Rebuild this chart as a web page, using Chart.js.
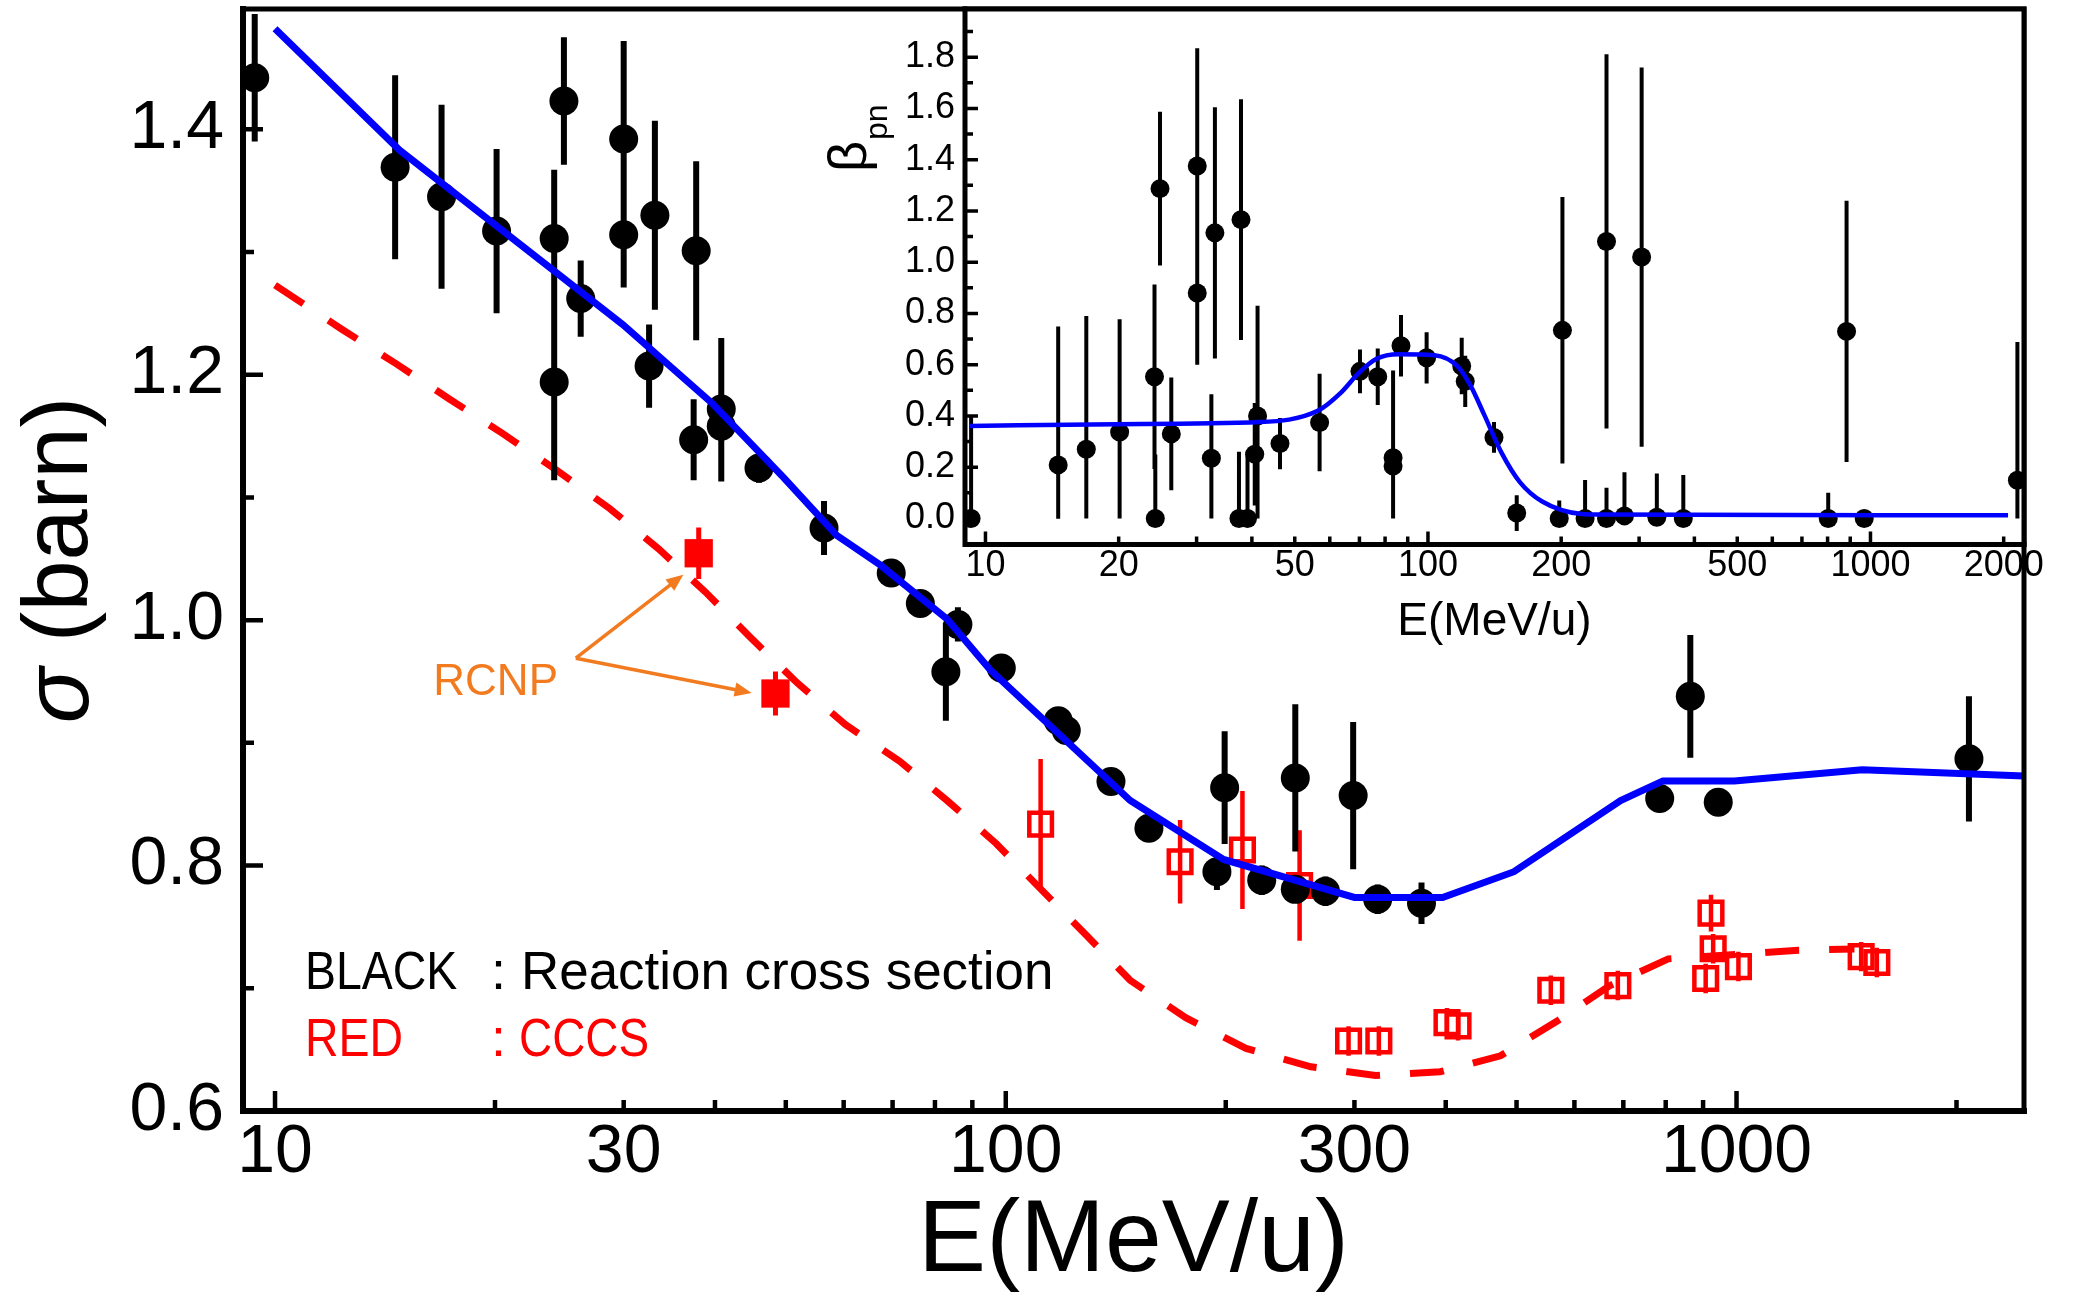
<!DOCTYPE html>
<html>
<head>
<meta charset="utf-8">
<script src="https://cdn.jsdelivr.net/npm/chart.js@4.4.1/dist/chart.umd.min.js"></script>
<style>
    html, body { margin: 0; padding: 0; background: #fff; }
    #wrap { position: relative; width: 2074px; height: 1293px; overflow: hidden; }
    #main { position: absolute; left: 0; top: 0; }
    #inset { position: absolute; left: 800px; top: 0; }
</style>
</head>
<body>
<div id="wrap">
    <canvas id="main" width="2074" height="1293"></canvas>
    <canvas id="inset" width="1274" height="700"></canvas>
</div>
<script>
const FONT = '"Liberation Sans", Arial, Helvetica, sans-serif';
const BLUE = '#0000ff';
const RED = '#ff0000';
const ORANGE = '#f27a1f';

// ---- main panel: reaction cross section (black) ----
const blackE = [9.38, 14.6, 16.9, 20.1, 24.1, 24.1, 24.85, 26.2, 30.0, 30.0, 33.1, 32.5, 37.7, 37.4, 40.8, 40.8,
    45.95, 56.4, 69.7, 76.4, 86.0, 82.8, 98.6, 118, 121, 139.3, 157, 194.5, 199.3, 224, 249, 249, 273.8,
    298.8, 322.8, 370.6, 785, 864.5, 944, 2080];
const blackSigma = [1.442, 1.369, 1.345, 1.317, 1.311, 1.194, 1.423, 1.262, 1.392, 1.314, 1.330, 1.207, 1.301,
    1.147, 1.172, 1.158, 1.124, 1.075, 1.0385, 1.0136, 0.9965, 0.958, 0.961, 0.918, 0.910, 0.8686, 0.8305,
    0.795, 0.8635, 0.788, 0.8714, 0.7806, 0.779, 0.857, 0.7725, 0.7693, 0.8547, 0.9379, 0.8515, 0.887];
const blackErr = [0.052, 0.075, 0.075, 0.067, 0.056, 0.08, 0.052, 0.031, 0.08, 0.043, 0.077, 0.034, 0.073,
    0.033, 0.058, 0.045, 0.012, 0.022, 0.009, 0.01, 0.014, 0.04, 0.01, 0.01, 0.01, 0.01, 0.01, 0.015, 0.046,
    0.012, 0.06, 0.01, 0.012, 0.06, 0.012, 0.017, 0.01, 0.05, 0.01, 0.051];

// reaction cross section calculation (blue solid)
const rcTheoryE = [10.0, 14.8, 29.9, 39.6, 49.7, 58.7, 67.3, 83.1, 95.2, 148, 198.6, 300, 396, 496, 694, 793, 993, 1486, 2474];
const rcTheorySigma = [1.482, 1.383, 1.241, 1.177, 1.116, 1.069, 1.045, 1.001, 0.9595, 0.853, 0.805, 0.774, 0.774,
    0.795, 0.853, 0.869, 0.869, 0.878, 0.873];

// charge changing cross section (red)
const cccsE = [111.6, 173.2, 210.8, 252.4, 294.5, 324, 401.6, 415.8, 557, 688, 922.7, 929, 907.4, 1006, 1481, 1556];
const cccsSigma = [0.8338, 0.8031, 0.8127, 0.7838, 0.657, 0.657, 0.672, 0.6694, 0.6984, 0.7022, 0.7612, 0.7322,
    0.708, 0.7177, 0.7258, 0.721];
const cccsErr = [0.053, 0.034, 0.048, 0.045, 0.012, 0.012, 0.012, 0.012, 0.012, 0.012, 0.015, 0.012, 0.012,
    0.012, 0.012, 0.012];

const rcnpE = [38.0, 48.4];
const rcnpSigma = [1.0545, 0.9402];
const rcnpErr = [0.021, 0.018];

const cccsTheoryE = [10.0, 12.34, 14.64, 17.34, 20.5, 24.3, 28.7, 33.5, 38.8, 44.7, 51.8, 60.3, 71.6, 83.1, 97,
    111.6, 128.5, 148, 176.3, 213.2, 261.5, 320.6, 393, 475.3, 570.6, 670, 806.5, 1214.6, 1450];
const cccsTheorySigma = [1.273, 1.237, 1.209, 1.180, 1.152, 1.122, 1.091, 1.058, 1.023, 0.986, 0.949, 0.915,
    0.885, 0.853, 0.818, 0.781, 0.744, 0.7065, 0.676, 0.651, 0.636, 0.629, 0.632, 0.645, 0.674, 0.702, 0.724,
    0.731, 0.732];

const mainXTicks = [10, 20, 30, 40, 50, 60, 70, 80, 90, 100, 200, 300, 400, 500, 600, 700, 800, 900, 1000, 2000];
const mainXMajor = [10, 100, 1000];
const mainXLabeled = [10, 30, 100, 300, 1000];
const mainYTicks = [0.6, 0.7, 0.8, 0.9, 1.0, 1.1, 1.2, 1.3, 1.4];
const mainYLabeled = [0.6, 0.8, 1.0, 1.2, 1.4];

// ---- inset: beta_pn ----
const betaE = [9.28, 14.6, 16.9, 20.1, 24.8, 24.1, 24.2, 26.3, 30.1, 30.1, 33.0, 32.4, 37.8, 37.4, 39.1, 41.2,
    40.6, 46.3, 56.9, 70.2, 77.0, 86.9, 83.4, 83.4, 99.3, 119.2, 121.4, 141, 158.7, 201.3, 198, 226.5, 253.2,
    253.2, 278, 304, 329, 377.6, 802.6, 883, 968, 2148];
const betaVal = [0, 0.209, 0.27, 0.337, 1.287, 0.553, 0, 0.33, 1.375, 0.880, 1.1145, 0.235, 1.166, 0, 0, 0.40,
    0.251, 0.2925, 0.3745, 0.574, 0.553, 0.674, 0.237, 0.205, 0.627, 0.595, 0.535, 0.316, 0.021, 0.734, 0, 0,
    0, 1.081, 0.01, 1.02, 0.005, 0, 0, 0.73, 0, 0.149];
const betaUp = [0.4, 0.54, 0.52, 0.44, 0.30, 0.36, 0.25, 0.22, 0.46, 0.28, 0.49, 0.25, 0.47, 0.26, 0.26, 0.43,
    0.2, 0.1, 0.19, 0.085, 0.11, 0.12, 0.34, 0.2, 0.1, 0.11, 0.1, 0.06, 0.07, 0.52, 0.07, 0.15, 0.12, 0.73,
    0.17, 0.74, 0.17, 0.17, 0.1, 0.51, 0.03, 0.54];
const betaDown = [0, 0.21, 0.27, 0.337, 0.30, 0.36, 0, 0.22, 0.46, 0.28, 0.49, 0.235, 0.47, 0, 0, 0.40, 0.2,
    0.1, 0.19, 0.085, 0.11, 0.12, 0.237, 0.205, 0.1, 0.11, 0.1, 0.06, 0.07, 0.52, 0, 0, 0, 0.73, 0.01, 0.74,
    0.005, 0, 0, 0.51, 0, 0.149];

const betaFitE = [9.18, 19.8, 41.7, 56.5, 63.5, 69.7, 76.5, 85.9, 103.5, 116.4, 124.8, 133.8, 146.9, 161.3,
    181.2, 222.4, 240.5, 2046];
const betaFitVal = [0.361, 0.368, 0.376, 0.421, 0.490, 0.567, 0.623, 0.641, 0.637, 0.595, 0.518, 0.407, 0.254,
    0.142, 0.066, 0.017, 0.015, 0.0125];

const insetXTicks = [10, 20, 30, 40, 50, 60, 70, 80, 90, 100, 200, 300, 400, 500, 600, 700, 800, 900, 1000, 2000];
const insetXMajor = [10, 100, 1000];
const insetXLabeled = [10, 20, 50, 100, 200, 500, 1000, 2000];
const insetYTicks = [0, 0.1, 0.2, 0.3, 0.4, 0.5, 0.6, 0.7, 0.8, 0.9, 1.0, 1.1, 1.2, 1.3, 1.4, 1.5, 1.6, 1.7, 1.8, 1.9];
const insetYLabeled = [0, 0.2, 0.4, 0.6, 0.8, 1.0, 1.2, 1.4, 1.6, 1.8];

const pts = (xs, ys) => xs.map((v, i) => ({ x: v, y: ys[i] }));

Chart.defaults.font.family = FONT;
Chart.defaults.color = '#000';

// vertical error bars, drawn just before the dataset's own points
const errorBars = {
    id: 'errorBars',
    beforeDatasetDraw(chart, args) {
        const ds = chart.data.datasets[args.index];
        if (!ds.errUp) {
            return;
        }
        const { ctx, chartArea: a, scales: { y } } = chart;
        ctx.save();
        ctx.beginPath();
        ctx.rect(a.left, a.top, a.width, a.height);
        ctx.clip();
        ctx.strokeStyle = ds.errColor;
        ctx.lineWidth = ds.errWidth;
        ctx.beginPath();
        args.meta.data.forEach((pt, i) => {
            const v = ds.data[i].y;
            ctx.moveTo(pt.x, y.getPixelForValue(v + ds.errUp[i]));
            ctx.lineTo(pt.x, y.getPixelForValue(v - ds.errDown[i]));
        });
        ctx.stroke();
        ctx.restore();
    },
};

function drawInwardTicks(chart, cfg) {
    const { ctx, chartArea: a, scales: { x, y } } = chart;
    ctx.save();
    ctx.strokeStyle = '#000';
    ctx.lineWidth = cfg.width;
    ctx.beginPath();
    cfg.xTicks.forEach((v) => {
        const px = x.getPixelForValue(v);
        const len = cfg.xMajor.includes(v) ? cfg.major : cfg.minor;
        ctx.moveTo(px, a.bottom);
        ctx.lineTo(px, a.bottom - len);
    });
    cfg.yTicks.forEach((v) => {
        const py = y.getPixelForValue(v);
        const len = cfg.yMajor.includes(v) ? cfg.major : cfg.minor;
        ctx.moveTo(a.left, py);
        ctx.lineTo(a.left + len, py);
    });
    ctx.stroke();
    ctx.restore();
}

function drawArrow(ctx, x0, y0, x1, y1, head) {
    const ang = Math.atan2(y1 - y0, x1 - x0);
    const c = Math.cos(ang);
    const s = Math.sin(ang);
    ctx.beginPath();
    ctx.moveTo(x0, y0);
    ctx.lineTo(x1 - head * 0.8 * c, y1 - head * 0.8 * s);
    ctx.stroke();
    ctx.beginPath();
    ctx.moveTo(x1, y1);
    ctx.lineTo(x1 - head * c + head * 0.42 * s, y1 - head * s - head * 0.42 * c);
    ctx.lineTo(x1 - head * c - head * 0.42 * s, y1 - head * s + head * 0.42 * c);
    ctx.closePath();
    ctx.fill();
}

function stretchedText(ctx, text, x, y, sx) {
    ctx.save();
    ctx.translate(x, y);
    ctx.scale(sx, 1);
    ctx.fillText(text, 0, 0);
    ctx.restore();
}

const mainDecor = {
    id: 'mainDecor',
    afterDraw(chart) {
        const { ctx, chartArea: a, scales: { x, y } } = chart;
        ctx.save();
        ctx.strokeStyle = '#000';
        ctx.lineCap = 'square';
        ctx.lineWidth = 6;
        ctx.beginPath();
        ctx.moveTo(a.left, a.top);
        ctx.lineTo(a.left, a.bottom);
        ctx.lineTo(a.right, a.bottom);
        ctx.stroke();
        ctx.lineWidth = 5;
        ctx.beginPath();
        ctx.moveTo(a.left, a.top);
        ctx.lineTo(a.right, a.top);
        ctx.lineTo(a.right, a.bottom);
        ctx.stroke();
        ctx.restore();

        drawInwardTicks(chart, {
            xTicks: mainXTicks, xMajor: mainXMajor, yTicks: mainYTicks, yMajor: mainYLabeled,
            major: 20, minor: 11, width: 4.5,
        });

        ctx.save();
        // RCNP annotation
        ctx.strokeStyle = ORANGE;
        ctx.fillStyle = ORANGE;
        ctx.lineWidth = 3.5;
        const ax = x.getPixelForValue(25.8);
        const ay = y.getPixelForValue(0.969);
        drawArrow(ctx, ax, ay, x.getPixelForValue(36.2), y.getPixelForValue(1.037), 17);
        drawArrow(ctx, ax, ay, x.getPixelForValue(44.9), y.getPixelForValue(0.9407), 17);
        ctx.font = `44px ${FONT}`;
        ctx.textAlign = 'center';
        ctx.textBaseline = 'middle';
        ctx.fillText('RCNP', x.getPixelForValue(20.04), y.getPixelForValue(0.9489));

        // legend text
        ctx.textAlign = 'left';
        ctx.font = `54px ${FONT}`;
        const lx = a.left + 62;
        const cx = a.left + 248;
        const tx = a.left + 278;
        ctx.fillStyle = '#000';
        stretchedText(ctx, 'BLACK', lx, a.bottom - 137, 0.86);
        ctx.fillText(':', cx, a.bottom - 137);
        stretchedText(ctx, 'Reaction cross section', tx, a.bottom - 137, 0.98);
        ctx.fillStyle = RED;
        stretchedText(ctx, 'RED', lx, a.bottom - 70, 0.86);
        ctx.fillText(':', cx, a.bottom - 70);
        stretchedText(ctx, 'CCCS', tx - 2, a.bottom - 70, 0.85);

        // axis titles
        ctx.fillStyle = '#000';
        ctx.textAlign = 'center';
        ctx.font = `102px ${FONT}`;
        ctx.fillText('E(MeV/u)', (a.left + a.right) / 2, 1243);

        ctx.translate(62, (a.top + a.bottom) / 2);
        ctx.rotate(-Math.PI / 2);
        ctx.textAlign = 'left';
        const sigmaFont = `italic 92px ${FONT}`;
        const restFont = `92px ${FONT}`;
        ctx.font = sigmaFont;
        const w1 = ctx.measureText('σ').width;
        ctx.font = restFont;
        const w2 = ctx.measureText(' (barn)').width;
        const start = -(w1 + w2) / 2;
        ctx.font = sigmaFont;
        ctx.fillText('σ', start, 0);
        ctx.font = restFont;
        ctx.fillText(' (barn)', start + w1, 0);
        ctx.restore();
    },
};

new Chart(document.getElementById('main'), {
    type: 'scatter',
    data: {
        datasets: [
            {
                label: 'Reaction cross section (calc.)',
                data: pts(rcTheoryE, rcTheorySigma),
                showLine: true,
                borderColor: BLUE,
                borderWidth: 7,
                pointRadius: 0,
            },
            {
                label: 'Reaction cross section',
                data: pts(blackE, blackSigma),
                errUp: blackErr,
                errDown: blackErr,
                errColor: '#000',
                errWidth: 6,
                pointRadius: 14.5,
                backgroundColor: '#000',
                borderWidth: 0,
            },
            {
                label: 'RCNP',
                data: pts(rcnpE, rcnpSigma),
                errUp: rcnpErr,
                errDown: rcnpErr,
                errColor: RED,
                errWidth: 5,
                pointStyle: 'rect',
                pointRadius: 20,
                backgroundColor: RED,
                borderWidth: 0,
            },
            {
                label: 'CCCS',
                data: pts(cccsE, cccsSigma),
                errUp: cccsErr,
                errDown: cccsErr,
                errColor: RED,
                errWidth: 4.5,
                pointStyle: 'rect',
                pointRadius: 16,
                backgroundColor: 'rgba(0,0,0,0)',
                borderColor: RED,
                borderWidth: 4.5,
            },
            {
                label: 'CCCS (calc.)',
                data: pts(cccsTheoryE, cccsTheorySigma),
                showLine: true,
                borderColor: RED,
                borderWidth: 7,
                borderDash: [34, 30],
                pointRadius: 0,
            },
        ],
    },
    options: {
        responsive: false,
        animation: false,
        devicePixelRatio: 1,
        events: [],
        layout: { autoPadding: false, padding: { left: 0, top: 9, right: 50, bottom: 0 } },
        plugins: { legend: { display: false }, tooltip: { enabled: false } },
        scales: {
            x: {
                type: 'logarithmic',
                min: 9.04,
                max: 2474,
                bounds: 'data',
                grid: { display: false, drawTicks: false },
                border: { display: false },
                afterBuildTicks: (s) => { s.ticks = mainXTicks.map((v) => ({ value: v })); },
                afterFit: (s) => { s.height = 182; s.paddingLeft = 0; s.paddingRight = 0; },
                ticks: {
                    autoSkip: false, maxRotation: 0, minRotation: 0, padding: 1,
                    font: { size: 68 },
                    callback: (v) => (mainXLabeled.includes(v) ? String(v) : null),
                },
            },
            y: {
                type: 'linear',
                min: 0.6,
                max: 1.498,
                bounds: 'data',
                grid: { display: false, drawTicks: false },
                border: { display: false },
                afterBuildTicks: (s) => { s.ticks = mainYTicks.map((v) => ({ value: v })); },
                afterFit: (s) => { s.width = 243; s.paddingTop = 0; s.paddingBottom = 0; },
                ticks: {
                    autoSkip: false, padding: 19,
                    font: { size: 68 },
                    callback: (v) => (mainYLabeled.includes(v) ? v.toFixed(1) : null),
                },
            },
        },
    },
    plugins: [errorBars, mainDecor],
});

const insetDecor = {
    id: 'insetDecor',
    beforeDatasetsDraw(chart) {
        const { ctx, chartArea: a } = chart;
        ctx.save();
        ctx.fillStyle = '#fff';
        ctx.fillRect(a.left, a.top, a.width, a.height);
        ctx.restore();
    },
    afterDraw(chart) {
        const { ctx, chartArea: a } = chart;
        ctx.save();
        ctx.strokeStyle = '#000';
        ctx.lineCap = 'square';
        ctx.lineWidth = 5;
        ctx.beginPath();
        ctx.moveTo(a.left, a.top);
        ctx.lineTo(a.left, a.bottom);
        ctx.lineTo(a.right, a.bottom);
        ctx.stroke();
        ctx.beginPath();
        ctx.moveTo(a.left, a.top);
        ctx.lineTo(a.right, a.top);
        ctx.lineTo(a.right, a.bottom);
        ctx.stroke();
        ctx.restore();

        drawInwardTicks(chart, {
            xTicks: insetXTicks, xMajor: insetXMajor, yTicks: insetYTicks, yMajor: insetYLabeled,
            major: 13, minor: 8, width: 3.5,
        });

        ctx.save();
        ctx.fillStyle = '#000';
        ctx.textAlign = 'center';
        ctx.textBaseline = 'middle';
        ctx.font = `46px ${FONT}`;
        ctx.fillText('E(MeV/u)', (a.left + a.right) / 2, 622);

        ctx.translate(66, 172);
        ctx.rotate(-Math.PI / 2);
        ctx.textAlign = 'left';
        ctx.textBaseline = 'alphabetic';
        ctx.font = `54px ${FONT}`;
        ctx.fillText('β', 0, 0);
        const wb = ctx.measureText('β').width;
        ctx.font = `32px ${FONT}`;
        ctx.fillText('pn', wb + 1, 21);
        ctx.restore();
    },
};

new Chart(document.getElementById('inset'), {
    type: 'scatter',
    data: {
        datasets: [
            {
                label: 'fit',
                data: pts(betaFitE, betaFitVal),
                showLine: true,
                borderColor: BLUE,
                borderWidth: 4.5,
                pointRadius: 0,
                cubicInterpolationMode: 'monotone',
            },
            {
                label: 'beta_pn',
                data: pts(betaE, betaVal),
                errUp: betaUp,
                errDown: betaDown,
                errColor: '#000',
                errWidth: 4,
                pointRadius: 9.5,
                backgroundColor: '#000',
                borderWidth: 0,
            },
        ],
    },
    options: {
        responsive: false,
        animation: false,
        devicePixelRatio: 1,
        events: [],
        layout: { autoPadding: false, padding: { left: 0, top: 9, right: 50, bottom: 0 } },
        plugins: { legend: { display: false }, tooltip: { enabled: false } },
        scales: {
            x: {
                type: 'logarithmic',
                min: 8.99,
                max: 2223,
                bounds: 'data',
                grid: { display: false, drawTicks: false },
                border: { display: false },
                afterBuildTicks: (s) => { s.ticks = insetXTicks.map((v) => ({ value: v })); },
                afterFit: (s) => { s.height = 155.4; s.paddingLeft = 0; s.paddingRight = 0; },
                ticks: {
                    autoSkip: false, maxRotation: 0, minRotation: 0, padding: 0,
                    font: { size: 36 },
                    callback: (v) => (insetXLabeled.includes(v) ? String(v) : null),
                },
            },
            y: {
                type: 'linear',
                min: -0.102,
                max: 1.988,
                bounds: 'data',
                grid: { display: false, drawTicks: false },
                border: { display: false },
                afterBuildTicks: (s) => { s.ticks = insetYTicks.map((v) => ({ value: v })); },
                afterFit: (s) => { s.width = 165; s.paddingTop = 0; s.paddingBottom = 0; },
                ticks: {
                    autoSkip: false, padding: 10,
                    font: { size: 36 },
                    callback: (v) => (insetYLabeled.includes(v) ? v.toFixed(1) : null),
                },
            },
        },
    },
    plugins: [errorBars, insetDecor],
});
</script>
</body>
</html>
